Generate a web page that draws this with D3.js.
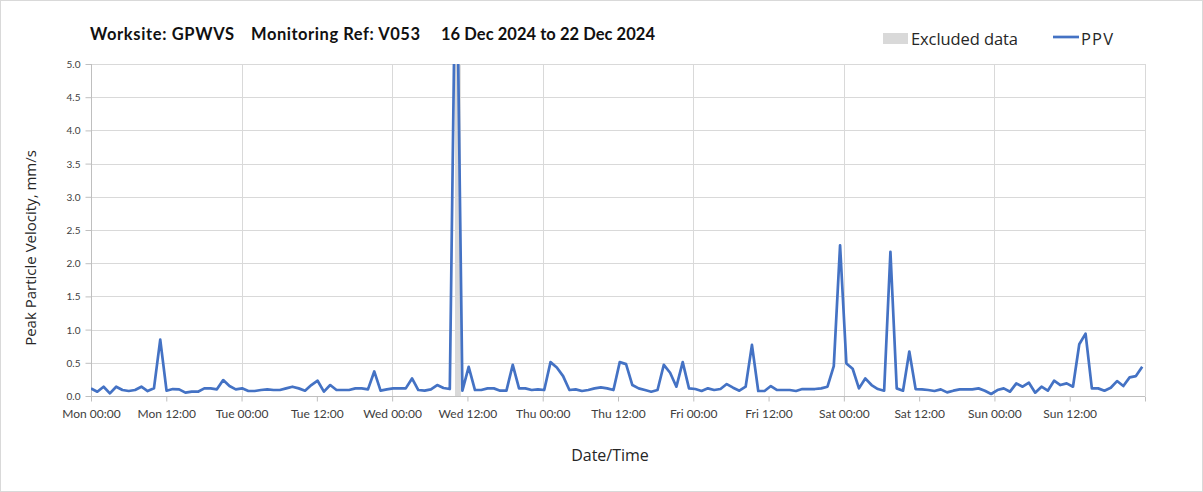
<!DOCTYPE html>
<html><head><meta charset="utf-8">
<script src="https://cdn.jsdelivr.net/npm/d3@7"></script>
<style>body{margin:0;background:#fff} svg{display:block}</style>
</head><body><svg id="c" width="1203" height="492"></svg>
<script>
// ---- data ----
const titleParts = ["Worksite: GPWVS", "Monitoring Ref: V053", "16 Dec 2024 to 22 Dec 2024"];
const seriesStart = "2024-12-16 00:00";
const sampleIntervalMinutes = 60.2;
const ppv = [
  0.115,0.065,0.14,0.04,0.14,0.09,0.075,0.09,0.14,0.075,
  0.115,0.85,0.08,0.105,0.10,0.05,0.065,0.065,0.115,0.115,
  0.10,0.24,0.15,0.10,0.115,0.075,0.075,0.09,0.10,0.09,
  0.09,0.115,0.14,0.115,0.08,0.165,0.23,0.065,0.165,0.09,
  0.09,0.09,0.115,0.115,
  0.10,0.37,0.08,0.10,0.115,0.115,0.115,0.265,0.09,0.08,
  0.10,0.165,0.12,0.105,7.5,0.08,0.44,0.09,0.09,0.115,
  0.115,0.08,0.08,0.47,0.115,0.115,0.09,0.10,0.09,0.51,
  0.43,0.30,0.09,0.10,0.075,0.09,0.115,0.13,0.115,0.09,
  0.51,0.48,0.165,0.115,
  0.09,0.065,0.09,0.47,0.35,0.14,0.51,0.115,0.105,0.075,
  0.115,0.09,0.105,0.18,0.125,0.08,0.14,0.77,0.075,0.075,
  0.15,0.09,0.09,0.09,0.075,0.105,0.105,0.105,0.115,0.14,
  0.45,2.27,0.49,0.41,0.115,0.265,0.165,0.105,0.08,2.17,
  0.115,0.08,0.67,
  0.105,0.10,0.09,0.075,0.10,0.055,0.08,0.10,0.10,0.10,
  0.115,0.08,0.03,0.09,0.115,0.065,0.19,0.14,0.20,0.05,
  0.14,0.08,0.23,0.165,0.19,0.14,0.78,0.94,0.115,0.115,
  0.08,0.125,0.225,0.15,0.28,0.30,0.44
];
const excludedRange = ["2024-12-18 10:01", "2024-12-18 10:57"];
const xDomain = ["2024-12-16 00:00", "2024-12-23 00:00"];
const xTickLabels = ["Mon 00:00","Mon 12:00","Tue 00:00","Tue 12:00","Wed 00:00","Wed 12:00","Thu 00:00",
                     "Thu 12:00","Fri 00:00","Fri 12:00","Sat 00:00","Sat 12:00","Sun 00:00","Sun 12:00"];
const yTicks = [0,0.5,1,1.5,2,2.5,3,3.5,4,4.5,5];
const legendLabels = ["Excluded data", "PPV"];

// ---- drawing ----
const parse = d3.timeParse("%Y-%m-%d %H:%M");
const t0 = parse(seriesStart);
const data = ppv.map((v, i) => ({t: new Date(+t0 + i * sampleIntervalMinutes * 60000), v}));

const svg = d3.select("#c");
const L = 91, R = 1145, T = 64, B = 396;
const x = d3.scaleTime().domain(xDomain.map(parse)).range([L, R]);
const y = d3.scaleLinear().domain([0, 5]).range([B, T]);
const grid = "#d9d9d9", axisCol = "#bfbfbf";

svg.append("rect").attr("x",0.5).attr("y",0.5).attr("width",1202).attr("height",491)
  .attr("fill","#fff").attr("stroke","#d9d9d9");

// excluded band
svg.append("rect")
  .attr("x", x(parse(excludedRange[0])))
  .attr("width", x(parse(excludedRange[1])) - x(parse(excludedRange[0])))
  .attr("y", T).attr("height", B - T).attr("fill", "#d9d9d9");

// horizontal grid
svg.append("g").selectAll("line").data(yTicks.filter(d => d > 0)).join("line")
  .attr("x1", L).attr("x2", R).attr("y1", d => Math.round(y(d)) + 0.5).attr("y2", d => Math.round(y(d)) + 0.5)
  .attr("stroke", grid);

// vertical grid (daily)
const dayTicks = d3.timeDay.range(x.domain()[0], d3.timeDay.offset(x.domain()[1], 1)).slice(1);
svg.append("g").selectAll("line").data(dayTicks).join("line")
  .attr("x1", d => Math.round(x(d)) + 0.5).attr("x2", d => Math.round(x(d)) + 0.5)
  .attr("y1", T).attr("y2", B).attr("stroke", grid);

// y axis
const yAxis = svg.append("g").attr("transform", `translate(${L + 0.5},0)`)
  .call(d3.axisLeft(y).tickValues(yTicks).tickFormat(d3.format(".1f")).tickSize(6).tickPadding(5));
yAxis.select(".domain").attr("stroke", axisCol).attr("d", `M0,${T}V${B}`);
yAxis.selectAll(".tick line").attr("stroke", axisCol);
yAxis.selectAll(".tick text").attr("font-family", "Lato, sans-serif").attr("font-size", 10)
  .attr("fill", "#404040").attr("dy", "0.35em");

// x axis
const xTickVals = d3.timeHour.every(12).range(x.domain()[0], d3.timeMinute.offset(x.domain()[1], 1));
const xAxis = svg.append("g").attr("transform", `translate(0,${B + 0.5})`)
  .call(d3.axisBottom(x).tickValues(xTickVals).tickFormat((d, i) => xTickLabels[i] || "").tickSize(5).tickPadding(8));
xAxis.select(".domain").attr("stroke", axisCol).attr("d", `M${L},0H${R}`);
xAxis.selectAll(".tick line").attr("stroke", axisCol);
xAxis.selectAll(".tick text").attr("font-family", "Lato, sans-serif").attr("font-size", 12).attr("fill", "#404040");

// line
svg.append("clipPath").attr("id", "clip").append("rect")
  .attr("x", L).attr("y", T).attr("width", R - L).attr("height", B - T + 2);
svg.append("path").datum(data).attr("clip-path", "url(#clip)")
  .attr("fill", "none").attr("stroke", "#4472C4").attr("stroke-width", 2.7).attr("stroke-linejoin", "round")
  .attr("d", d3.line().x(d => x(d.t)).y(d => y(d.v)));

// title
const titleX = [90, 251, 441];
const titleW = [144, 169, 214];
svg.append("g").selectAll("text").data(titleParts).join("text")
  .attr("x", (d, i) => titleX[i]).attr("y", 40)
  .attr("textLength", (d, i) => titleW[i]).attr("lengthAdjust", "spacing")
  .attr("font-family", "Lato, sans-serif").attr("font-weight", "bold").attr("font-size", 16.5).attr("fill", "#111")
  .text(d => d);

// legend
svg.append("rect").attr("x", 883).attr("y", 33).attr("width", 25).attr("height", 11).attr("fill", "#d9d9d9");
svg.append("text").attr("x", 911).attr("y", 44.5).attr("font-family", "'Open Sans', sans-serif")
  .attr("textLength", 107).attr("lengthAdjust", "spacing")
  .attr("font-size", 16.5).attr("fill", "#262626").text(legendLabels[0]);
svg.append("line").attr("x1", 1053).attr("x2", 1079).attr("y1", 37).attr("y2", 37)
  .attr("stroke", "#4472C4").attr("stroke-width", 2.7);
svg.append("text").attr("x", 1081).attr("y", 44.5).attr("font-family", "'Open Sans', sans-serif")
  .attr("textLength", 32).attr("lengthAdjust", "spacing")
  .attr("font-size", 16.5).attr("fill", "#262626").text(legendLabels[1]);

// axis titles
svg.append("text").attr("transform", "translate(36,248) rotate(-90)").attr("text-anchor", "middle")
  .attr("font-family", "'Open Sans', sans-serif").attr("font-size", 15).attr("fill", "#262626")
  .text("Peak Particle Velocity, mm/s");
svg.append("text").attr("x", 610).attr("y", 461).attr("text-anchor", "middle")
  .attr("font-family", "'Open Sans', sans-serif").attr("font-size", 16).attr("fill", "#262626")
  .text("Date/Time");
</script></body></html>
